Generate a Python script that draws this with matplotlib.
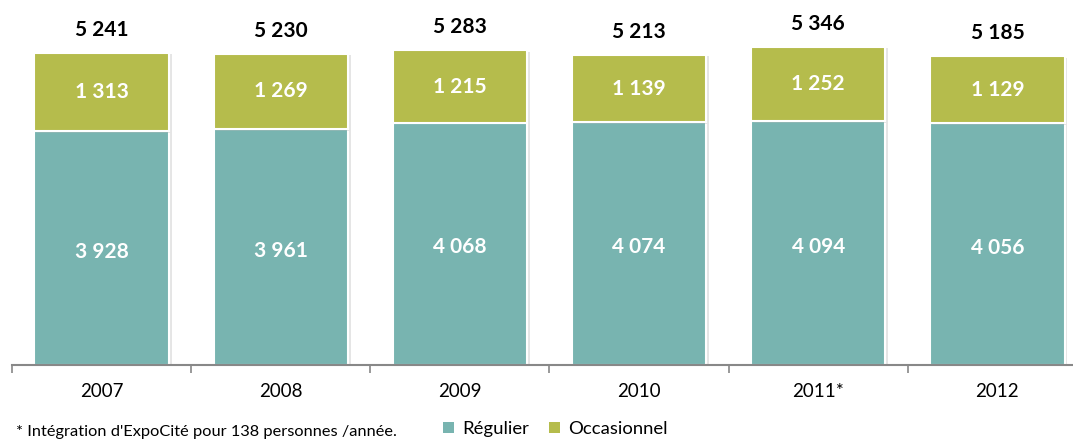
import matplotlib
matplotlib.use("Agg")
import matplotlib.pyplot as plt
import matplotlib.patheffects as pe
import numpy as np

years = ["2007", "2008", "2009", "2010", "2011*", "2012"]
regulier = [3928, 3961, 4068, 4074, 4094, 4056]
occasionnel = [1313, 1269, 1215, 1139, 1252, 1129]
totals = [5241, 5230, 5283, 5213, 5346, 5185]

c_reg = "#78B4B0"
c_occ = "#B5BC4C"

def fmt(v):
    return f"{v:,}".replace(",", " ")

W, H = 1073, 441
fig = plt.figure(figsize=(W / 100, H / 100), dpi=100)
ax = fig.add_axes([12 / W, (H - 365) / H, 1075 / W, 365 / H])

x = np.arange(len(years))
shadow = [pe.SimplePatchShadow(offset=(2, -1), shadow_rgbFace="#aaaaaa", alpha=0.3), pe.Normal()]
b1 = ax.bar(x, regulier, width=0.75, color=c_reg, edgecolor="white", linewidth=1.5,
            label="Régulier", path_effects=shadow, zorder=2)
b2 = ax.bar(x, occasionnel, bottom=regulier, width=0.75, color=c_occ, edgecolor="white",
            linewidth=1.5, label="Occasionnel", path_effects=shadow, zorder=2)

for i in range(len(years)):
    ax.text(x[i], regulier[i] / 2 - 60, fmt(regulier[i]), ha="center", va="center",
            color="white", fontsize=15, fontweight="bold", family="Lato")
    ax.text(x[i], regulier[i] + occasionnel[i] / 2, fmt(occasionnel[i]), ha="center",
            va="center", color="white", fontsize=15, fontweight="bold", family="Lato")
    ax.annotate(fmt(totals[i]), (x[i], totals[i]), xytext=(0, 23), textcoords="offset pixels",
                ha="center", va="center", fontsize=15, fontweight="bold", family="Lato",
                color="black")

ax.set_xlim(-0.5, len(years) - 0.5)
ax.set_ylim(0, 6130)
for s in ["top", "right", "left"]:
    ax.spines[s].set_visible(False)
ax.spines["bottom"].set_color("#888888")
ax.spines["bottom"].set_linewidth(1.5)
ax.set_yticks([])
ax.set_xticks(np.arange(-0.5, len(years), 1.0), minor=False)
ax.set_xticklabels([])
ax.tick_params(axis="x", which="major", length=6, width=1.2, color="#888888", direction="out")
ax.set_xticks(x, minor=True)
ax.set_xticklabels(years, minor=True, fontsize=13.5, family="Lato")
ax.tick_params(axis="x", which="minor", length=0, pad=13)

fig.text(16 / W, 1 - 432 / H, "* Intégration d'ExpoCité pour 138 personnes /année.",
         fontsize=11.8, family="Lato", ha="left", va="center")

leg = fig.legend(handles=[b1, b2], loc="center left", bbox_to_anchor=(426 / W, 1 - 429 / H),
                 ncol=2, frameon=False, prop={"family": "Lato", "size": 13.3},
                 handlelength=0.6, handleheight=0.6, handletextpad=0.45, columnspacing=1.1)
for h in leg.legend_handles:
    h.set_path_effects([])
    h.set_edgecolor("none")

fig.savefig("out.png", dpi=100)
